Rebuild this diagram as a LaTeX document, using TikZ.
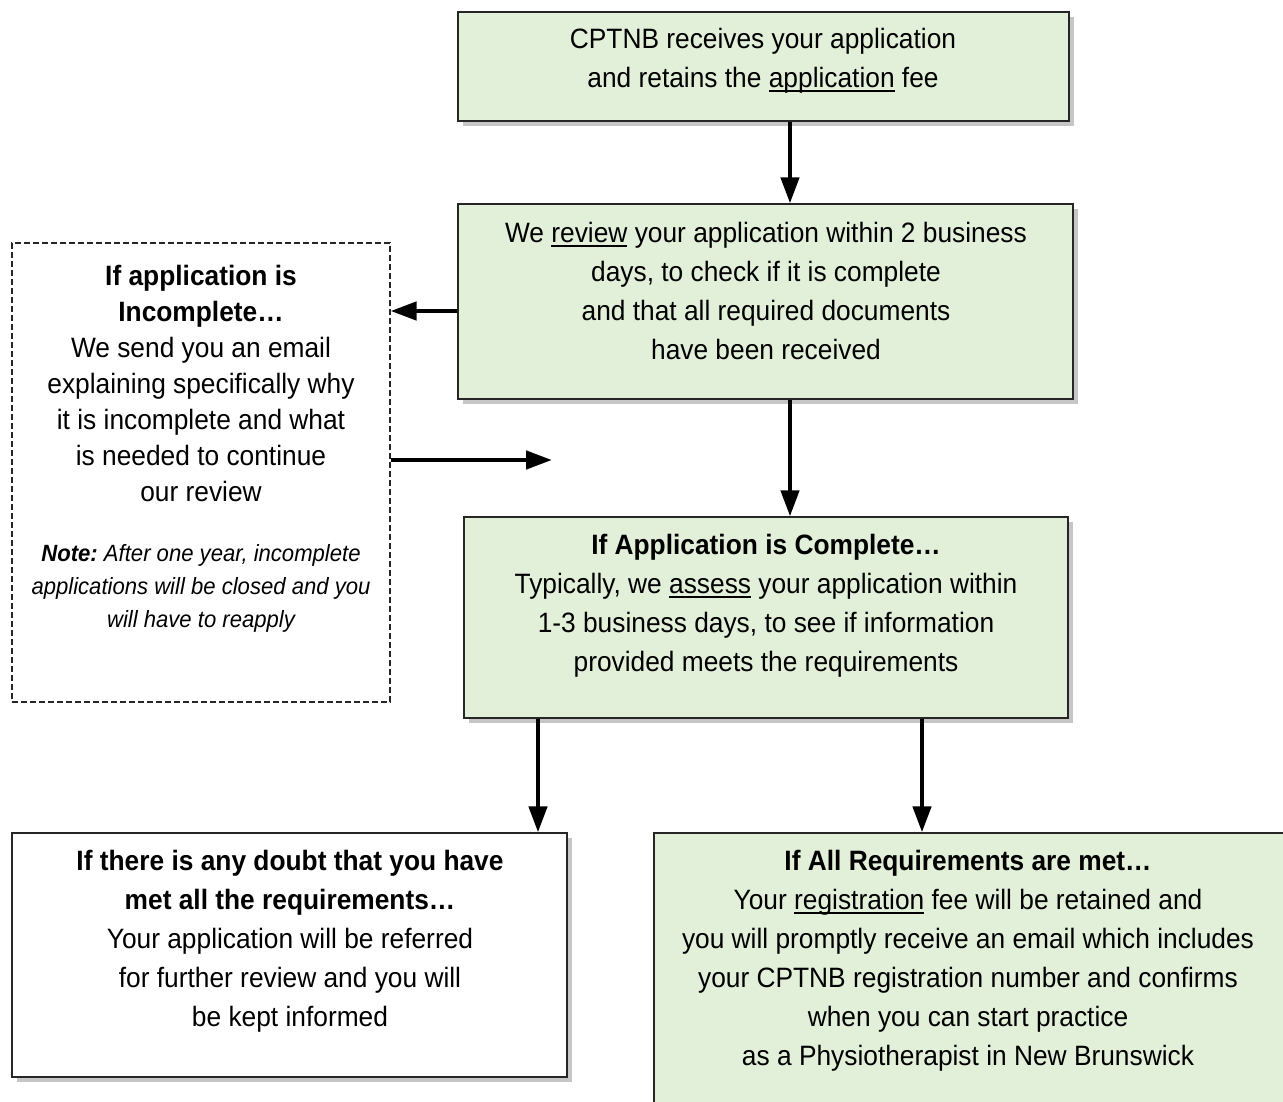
\documentclass[tikz,border=0pt]{standalone}
\usepackage{fontspec}
\setmainfont{Liberation Sans}[FakeStretch=0.94]
\usetikzlibrary{arrows.meta,shadows}

\definecolor{boxgreen}{HTML}{E2EFD9}
\newcommand{\undl}[1]{\setbox0\hbox{#1}\rlap{\rule[-4.5pt]{\wd0}{1.8pt}}\box0\relax}
\tikzset{
  stepbox/.style={draw=black!85,line width=1.3pt,fill=boxgreen,
    drop shadow={shadow xshift=5pt,shadow yshift=-5pt,opacity=0.45}},
  whitebox/.style={stepbox,fill=white},
  notebox/.style={draw=black!85,line width=1.2pt,dash pattern=on 6pt off 3pt},
  txt/.style={align=center,font=\fontsize{28}{39}\selectfont},
  flow/.style={line width=4.5pt,-{Triangle[length=26pt,width=18pt]}}
}

\begin{document}
\begin{tikzpicture}[x=1pt,y=-1pt]
\useasboundingbox (0,0) rectangle (1283,1102);

% boxes
\node[stepbox,minimum width=611pt,minimum height=109pt] (recv) at (763.5,66.5) {};
\node[stepbox,minimum width=615pt,minimum height=195pt] (review) at (765.5,301.5) {};
\node[stepbox,minimum width=604pt,minimum height=201pt] (assess) at (766,617.5) {};
\node[notebox,minimum width=378pt,minimum height=459pt] (incomp) at (201,472.5) {};
\node[whitebox,minimum width=555pt,minimum height=244pt] (doubt) at (289.5,955) {};
\node[stepbox,minimum width=640pt,minimum height=280pt] (met) at (974,973) {};

% texts
\node[txt] (t1) at (763,61) {CPTNB receives your application\\ and retains the \undl{application} fee};
\node[txt] (t2) at (766,291) {We \undl{review} your application within 2 business\\ days, to check if it is complete\\ and that all required documents\\ have been received};
\node[txt] (t3) at (766,606) {\textbf{If Application is Complete…}\\ Typically, we \undl{assess} your application within\\ 1-3 business days, to see if information\\ provided meets the requirements};
\node[txt,font=\fontsize{28}{36}\selectfont] (t4) at (201,383) {\textbf{If application is}\\ \textbf{Incomplete…}\\ We send you an email\\ explaining specifically why\\ it is incomplete and what\\ is needed to continue\\ our review};
\node[txt,font=\fontsize{23.5}{33}\selectfont\itshape] (t5) at (201,588) {\textbf{Note:}~After one year, incomplete\\ applications will be closed and you\\ will have to reapply};
\node[txt] (t6) at (290,941) {\textbf{If there is any doubt that you have}\\ \textbf{met all the requirements…}\\ Your application will be referred\\ for further review and you will\\ be kept informed};
\node[txt] (t7) at (968,961) {\textbf{If All Requirements are met…}\\ Your \undl{registration} fee will be retained and\\ you will promptly receive an email which includes\\ your CPTNB registration number and confirms\\ when you can start practice\\ as a Physiotherapist in New Brunswick};

% arrows
\coordinate (mid) at (790,0);
\coordinate (left) at (538,0);
\coordinate (right) at (922,0);
\coordinate (back) at (552,460);
\draw[flow] (mid |- recv.south) -- (mid |- review.north);
\draw[flow] (mid |- review.south) -- (mid |- assess.north);
\draw[flow] ([yshift=-9.5pt]review.west) -- ([yshift=-9.5pt]review.west -| incomp.east);
\draw[flow] (back -| incomp.east) -- (back);
\draw[flow] (left |- assess.south) -- (left |- doubt.north);
\draw[flow] (right |- assess.south) -- (right |- met.north);
\end{tikzpicture}
\end{document}
